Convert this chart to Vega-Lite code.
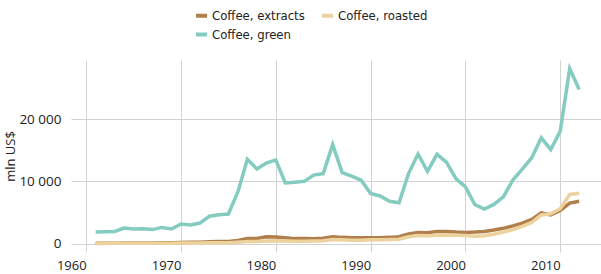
{
  "$schema": "https://vega.github.io/schema/vega-lite/v6.json",
  "autosize": {"type": "none"},
  "padding": {"left": 71, "top": 60, "right": 0, "bottom": 22},
  "width": 530,
  "height": 192,
  "background": "white",
  "config": {"view": {"stroke": null}},
  "data": {"values": [
    {"year":1961,"product":"Coffee, extracts","value":50},{"year":1962,"product":"Coffee, extracts","value":60},{"year":1963,"product":"Coffee, extracts","value":70},{"year":1964,"product":"Coffee, extracts","value":80},{"year":1965,"product":"Coffee, extracts","value":90},{"year":1966,"product":"Coffee, extracts","value":100},{"year":1967,"product":"Coffee, extracts","value":110},{"year":1968,"product":"Coffee, extracts","value":120},{"year":1969,"product":"Coffee, extracts","value":140},{"year":1970,"product":"Coffee, extracts","value":170},{"year":1971,"product":"Coffee, extracts","value":200},{"year":1972,"product":"Coffee, extracts","value":230},{"year":1973,"product":"Coffee, extracts","value":280},{"year":1974,"product":"Coffee, extracts","value":320},{"year":1975,"product":"Coffee, extracts","value":350},{"year":1976,"product":"Coffee, extracts","value":500},{"year":1977,"product":"Coffee, extracts","value":800},{"year":1978,"product":"Coffee, extracts","value":820},{"year":1979,"product":"Coffee, extracts","value":1100},{"year":1980,"product":"Coffee, extracts","value":1050},{"year":1981,"product":"Coffee, extracts","value":950},{"year":1982,"product":"Coffee, extracts","value":800},{"year":1983,"product":"Coffee, extracts","value":800},{"year":1984,"product":"Coffee, extracts","value":780},{"year":1985,"product":"Coffee, extracts","value":850},{"year":1986,"product":"Coffee, extracts","value":1100},{"year":1987,"product":"Coffee, extracts","value":1000},{"year":1988,"product":"Coffee, extracts","value":950},{"year":1989,"product":"Coffee, extracts","value":920},{"year":1990,"product":"Coffee, extracts","value":950},{"year":1991,"product":"Coffee, extracts","value":950},{"year":1992,"product":"Coffee, extracts","value":1000},{"year":1993,"product":"Coffee, extracts","value":1100},{"year":1994,"product":"Coffee, extracts","value":1550},{"year":1995,"product":"Coffee, extracts","value":1800},{"year":1996,"product":"Coffee, extracts","value":1750},{"year":1997,"product":"Coffee, extracts","value":1950},{"year":1998,"product":"Coffee, extracts","value":1950},{"year":1999,"product":"Coffee, extracts","value":1850},{"year":2000,"product":"Coffee, extracts","value":1800},{"year":2001,"product":"Coffee, extracts","value":1850},{"year":2002,"product":"Coffee, extracts","value":1950},{"year":2003,"product":"Coffee, extracts","value":2200},{"year":2004,"product":"Coffee, extracts","value":2450},{"year":2005,"product":"Coffee, extracts","value":2850},{"year":2006,"product":"Coffee, extracts","value":3300},{"year":2007,"product":"Coffee, extracts","value":3900},{"year":2008,"product":"Coffee, extracts","value":4950},{"year":2009,"product":"Coffee, extracts","value":4600},{"year":2010,"product":"Coffee, extracts","value":5300},{"year":2011,"product":"Coffee, extracts","value":6500},{"year":2012,"product":"Coffee, extracts","value":6800},

    {"year":1961,"product":"Coffee, roasted","value":30},{"year":1962,"product":"Coffee, roasted","value":35},{"year":1963,"product":"Coffee, roasted","value":40},{"year":1964,"product":"Coffee, roasted","value":45},{"year":1965,"product":"Coffee, roasted","value":50},{"year":1966,"product":"Coffee, roasted","value":55},{"year":1967,"product":"Coffee, roasted","value":60},{"year":1968,"product":"Coffee, roasted","value":65},{"year":1969,"product":"Coffee, roasted","value":70},{"year":1970,"product":"Coffee, roasted","value":80},{"year":1971,"product":"Coffee, roasted","value":90},{"year":1972,"product":"Coffee, roasted","value":100},{"year":1973,"product":"Coffee, roasted","value":120},{"year":1974,"product":"Coffee, roasted","value":135},{"year":1975,"product":"Coffee, roasted","value":150},{"year":1976,"product":"Coffee, roasted","value":220},{"year":1977,"product":"Coffee, roasted","value":320},{"year":1978,"product":"Coffee, roasted","value":350},{"year":1979,"product":"Coffee, roasted","value":420},{"year":1980,"product":"Coffee, roasted","value":450},{"year":1981,"product":"Coffee, roasted","value":400},{"year":1982,"product":"Coffee, roasted","value":380},{"year":1983,"product":"Coffee, roasted","value":380},{"year":1984,"product":"Coffee, roasted","value":400},{"year":1985,"product":"Coffee, roasted","value":450},{"year":1986,"product":"Coffee, roasted","value":650},{"year":1987,"product":"Coffee, roasted","value":600},{"year":1988,"product":"Coffee, roasted","value":550},{"year":1989,"product":"Coffee, roasted","value":550},{"year":1990,"product":"Coffee, roasted","value":600},{"year":1991,"product":"Coffee, roasted","value":600},{"year":1992,"product":"Coffee, roasted","value":650},{"year":1993,"product":"Coffee, roasted","value":700},{"year":1994,"product":"Coffee, roasted","value":1100},{"year":1995,"product":"Coffee, roasted","value":1300},{"year":1996,"product":"Coffee, roasted","value":1250},{"year":1997,"product":"Coffee, roasted","value":1350},{"year":1998,"product":"Coffee, roasted","value":1400},{"year":1999,"product":"Coffee, roasted","value":1350},{"year":2000,"product":"Coffee, roasted","value":1300},{"year":2001,"product":"Coffee, roasted","value":1200},{"year":2002,"product":"Coffee, roasted","value":1250},{"year":2003,"product":"Coffee, roasted","value":1500},{"year":2004,"product":"Coffee, roasted","value":1850},{"year":2005,"product":"Coffee, roasted","value":2250},{"year":2006,"product":"Coffee, roasted","value":2750},{"year":2007,"product":"Coffee, roasted","value":3400},{"year":2008,"product":"Coffee, roasted","value":4600},{"year":2009,"product":"Coffee, roasted","value":4800},{"year":2010,"product":"Coffee, roasted","value":5600},{"year":2011,"product":"Coffee, roasted","value":7900},{"year":2012,"product":"Coffee, roasted","value":8100},

    {"year":1961,"product":"Coffee, green","value":1870},{"year":1962,"product":"Coffee, green","value":1900},{"year":1963,"product":"Coffee, green","value":1950},{"year":1964,"product":"Coffee, green","value":2500},{"year":1965,"product":"Coffee, green","value":2350},{"year":1966,"product":"Coffee, green","value":2400},{"year":1967,"product":"Coffee, green","value":2250},{"year":1968,"product":"Coffee, green","value":2600},{"year":1969,"product":"Coffee, green","value":2350},{"year":1970,"product":"Coffee, green","value":3150},{"year":1971,"product":"Coffee, green","value":3000},{"year":1972,"product":"Coffee, green","value":3300},{"year":1973,"product":"Coffee, green","value":4400},{"year":1974,"product":"Coffee, green","value":4650},{"year":1975,"product":"Coffee, green","value":4750},{"year":1976,"product":"Coffee, green","value":8300},{"year":1977,"product":"Coffee, green","value":13550},{"year":1978,"product":"Coffee, green","value":12000},{"year":1979,"product":"Coffee, green","value":12950},{"year":1980,"product":"Coffee, green","value":13450},{"year":1981,"product":"Coffee, green","value":9750},{"year":1982,"product":"Coffee, green","value":9850},{"year":1983,"product":"Coffee, green","value":10000},{"year":1984,"product":"Coffee, green","value":11000},{"year":1985,"product":"Coffee, green","value":11250},{"year":1986,"product":"Coffee, green","value":15900},{"year":1987,"product":"Coffee, green","value":11400},{"year":1988,"product":"Coffee, green","value":10850},{"year":1989,"product":"Coffee, green","value":10200},{"year":1990,"product":"Coffee, green","value":8050},{"year":1991,"product":"Coffee, green","value":7650},{"year":1992,"product":"Coffee, green","value":6800},{"year":1993,"product":"Coffee, green","value":6550},{"year":1994,"product":"Coffee, green","value":11250},{"year":1995,"product":"Coffee, green","value":14400},{"year":1996,"product":"Coffee, green","value":11600},{"year":1997,"product":"Coffee, green","value":14350},{"year":1998,"product":"Coffee, green","value":13100},{"year":1999,"product":"Coffee, green","value":10450},{"year":2000,"product":"Coffee, green","value":9100},{"year":2001,"product":"Coffee, green","value":6250},{"year":2002,"product":"Coffee, green","value":5550},{"year":2003,"product":"Coffee, green","value":6300},{"year":2004,"product":"Coffee, green","value":7500},{"year":2005,"product":"Coffee, green","value":10200},{"year":2006,"product":"Coffee, green","value":11950},{"year":2007,"product":"Coffee, green","value":13800},{"year":2008,"product":"Coffee, green","value":17000},{"year":2009,"product":"Coffee, green","value":15100},{"year":2010,"product":"Coffee, green","value":18050},{"year":2011,"product":"Coffee, green","value":28100},{"year":2012,"product":"Coffee, green","value":24750}
  ]},
  "mark": {"type": "line", "strokeWidth": 3.5, "strokeJoin": "miter", "clip": true},
  "encoding": {
    "x": {
      "field": "year", "type": "quantitative",
      "scale": {"domain": [1958.4, 2014.3], "nice": false, "zero": false},
      "axis": {
        "values": [1960, 1970, 1980, 1990, 2000, 2010],
        "format": "d", "title": null,
        "domain": false, "ticks": false,
        "grid": true, "gridColor": "#d2d2d2", "gridWidth": 1,
        "labelAlign": "right", "labelPadding": 7,
        "labelFont": "Open Sans", "labelFontSize": 13, "labelColor": "#222222"
      }
    },
    "y": {
      "field": "value", "type": "quantitative",
      "scale": {"domain": [-1350, 29500], "nice": false, "zero": false},
      "axis": {
        "values": [0, 10000, 20000],
        "labelExpr": "replace(format(datum.value, ','), ',', ' ')",
        "title": "mln US$", "titleFont": "Open Sans", "titleFontSize": 13, "titleFontWeight": "normal", "titleColor": "#222222", "titlePadding": 1,
        "domain": false, "ticks": false,
        "grid": true, "gridColor": "#d2d2d2", "gridWidth": 1,
        "labelPadding": 10,
        "labelFont": "Open Sans", "labelFontSize": 13.5, "labelColor": "#222222"
      }
    },
    "color": {
      "field": "product", "type": "nominal",
      "scale": {"domain": ["Coffee, extracts", "Coffee, roasted", "Coffee, green"], "range": ["#b07f4b", "#ecd29c", "#84cbc0"]},
      "legend": {
        "title": null, "orient": "none", "legendX": 123, "legendY": -52,
        "direction": "horizontal", "columns": 2, "columnPadding": 9, "rowPadding": 2,
        "symbolType": "stroke", "symbolSize": 121, "symbolStrokeWidth": 4,
        "labelFont": "DejaVu Sans Condensed", "labelFontSize": 13, "labelColor": "#222222", "labelOffset": 3
      }
    }
  }
}
